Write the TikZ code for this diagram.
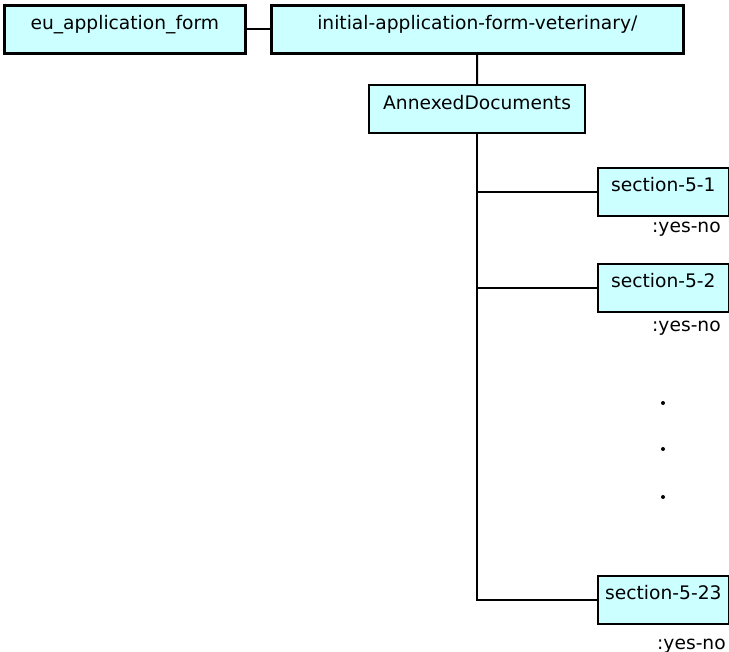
\documentclass[tikz,border=0pt]{standalone}
\usepackage{fontspec}
\setmainfont{DejaVu Sans}
\usetikzlibrary{positioning}
\definecolor{boxcyan}{HTML}{CCFFFF}

\begin{document}
\begin{tikzpicture}[x=0.75pt,y=-0.75pt,
  box/.style={draw,fill=boxcyan,line width=1.3pt,anchor=north west,inner sep=0pt,
    font=\fontsize{14}{16}\selectfont,text height=18pt,text depth=18pt,align=center},
  topbox/.style={box,line width=1.9pt},
  yesno/.style={anchor=base east,inner sep=0pt,font=\fontsize{14}{16}\selectfont},
  wire/.style={line width=1.5pt}]
  \useasboundingbox (0,0) rectangle (729,652);
  \node[topbox,minimum width=180.75pt] (euform) at (3,4) {eu\_application\_form};
  \node[topbox,minimum width=309pt] (initform) at (270,4) {initial-application-form-veterinary/};
  \node[box,line width=1.6pt,minimum width=162pt] (annexed) at (368,84) {AnnexedDocuments};
  \node[box,minimum width=98.25pt] (sec1) at (597,167) {section-5-1};
  \node[box,minimum width=98.25pt] (sec2) at (597,263) {section-5-2};
  \node[box,minimum width=98.25pt] (sec23) at (597,575) {section-5-23};
  \node[yesno] (yn1) at (721,233) {:yes-no};
  \node[yesno] (yn2) at (721,332) {:yes-no};
  \node[yesno] (yn23) at (726,649) {:yes-no};
  % links
  \draw[wire] (euform) -- (initform);
  \draw[wire] (initform) -- (annexed);
  \draw[wire] (annexed.south) |- (sec23.west);
  \draw[wire] (annexed.south |- sec1.west) -- (sec1.west);
  \draw[wire] (annexed.south |- sec2.west) -- (sec2.west);
  % dots
  \foreach \y in {403,449,497}
    \fill (663,\y) circle (1.5pt);
\end{tikzpicture}
\end{document}
